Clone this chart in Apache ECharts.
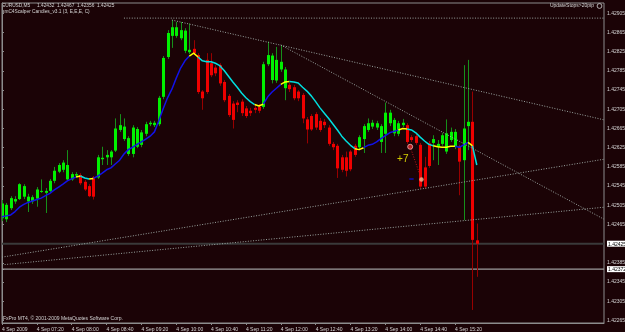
<!DOCTYPE html>
<html><head><meta charset="utf-8">
<script src="https://cdn.jsdelivr.net/npm/echarts@6/dist/echarts.min.js"></script>
<style>html,body{margin:0;padding:0;background:#1b0306;}#c{width:625px;height:332px;}</style>
</head><body><div id="c"></div>
<script>
// ---- data (EURUSD M5, bar 0 = 06:40, one bar per 5 minutes) ----
const openP = [1.42478,1.42476,1.42499,1.42513,1.42518,1.42523,1.42513,1.42513,1.42519,1.42533,
1.42531,1.42535,1.42556,1.42575,1.42579,1.42559,1.42559,1.42567,1.42568,1.42554,
1.42545,1.42563,1.42563,1.42601,1.42605,1.42605,1.42619,1.42662,1.42643,1.42612,
1.42612,1.42627,1.42631,1.42654,1.42674,1.42672,1.42674,1.42731,1.42814,1.42858,
1.42858,1.42853,1.42827,1.42824,1.42831,1.42818,1.42742,1.42808,1.42801,1.42792,
1.42797,1.42762,1.42733,1.42717,1.42719,1.42721,1.42707,1.42702,1.42708,1.42710,
1.42710,1.42799,1.42766,1.42765,1.42788,1.42749,1.42756,1.42751,1.42742,1.42735,
1.42684,1.42691,1.42695,1.42681,1.42679,1.42667,1.42633,1.42629,1.42605,1.42605,
1.42617,1.42629,1.42626,1.42643,1.42662,1.42669,1.42667,1.42637,1.42654,1.42676,
1.42655,1.42654,1.42672,1.42672,1.42647,1.42649,1.42631,1.42584,1.42634,1.42635,
1.42627,1.42633,1.42617,1.42641,1.42627,1.42627,1.42599,1.42670,1.42679,1.42432];
const highP = [1.42516,1.42510,1.42524,1.42524,1.42551,1.42549,1.42529,1.42526,1.42543,1.42559,
1.42541,1.42560,1.42585,1.42593,1.42599,1.42620,1.42574,1.42574,1.42572,1.42558,
1.42549,1.42566,1.42610,1.42627,1.42620,1.42620,1.42686,1.42695,1.42686,1.42649,
1.42672,1.42668,1.42662,1.42679,1.42681,1.42681,1.42733,1.42816,1.42870,1.42891,
1.42887,1.42887,1.42874,1.42884,1.42849,1.42822,1.42745,1.42822,1.42822,1.42797,
1.42801,1.42766,1.42737,1.42722,1.42724,1.42726,1.42712,1.42708,1.42714,1.42716,
1.42804,1.42846,1.42822,1.42835,1.42839,1.42793,1.42760,1.42756,1.42745,1.42739,
1.42689,1.42695,1.42699,1.42687,1.42685,1.42672,1.42637,1.42633,1.42610,1.42617,
1.42620,1.42633,1.42651,1.42674,1.42686,1.42683,1.42681,1.42674,1.42719,1.42704,
1.42687,1.42681,1.42685,1.42676,1.42651,1.42654,1.42635,1.42606,1.42639,1.42651,
1.42641,1.42656,1.42684,1.42667,1.42664,1.42631,1.42797,1.42808,1.42742,1.42467];
const lowP = [1.42472,1.42470,1.42495,1.42508,1.42516,1.42518,1.42491,1.42508,1.42502,1.42531,
1.42489,1.42531,1.42551,1.42572,1.42574,1.42556,1.42556,1.42564,1.42547,1.42535,
1.42522,1.42517,1.42560,1.42589,1.42589,1.42589,1.42616,1.42658,1.42639,1.42608,
1.42605,1.42624,1.42626,1.42649,1.42670,1.42668,1.42670,1.42726,1.42810,1.42833,
1.42854,1.42849,1.42822,1.42820,1.42818,1.42737,1.42704,1.42737,1.42772,1.42774,
1.42754,1.42720,1.42689,1.42665,1.42699,1.42691,1.42687,1.42691,1.42697,1.42697,
1.42706,1.42795,1.42759,1.42760,1.42783,1.42724,1.42741,1.42724,1.42722,1.42676,
1.42634,1.42660,1.42662,1.42658,1.42666,1.42629,1.42620,1.42562,1.42574,1.42565,
1.42576,1.42606,1.42620,1.42614,1.42658,1.42664,1.42662,1.42614,1.42614,1.42670,
1.42649,1.42649,1.42668,1.42633,1.42637,1.42631,1.42539,1.42539,1.42583,1.42599,
1.42589,1.42629,1.42612,1.42637,1.42622,1.42526,1.42474,1.42620,1.42287,1.42356];
const closeP = [1.42509,1.42506,1.42520,1.42518,1.42549,1.42545,1.42523,1.42522,1.42538,1.42535,
1.42535,1.42556,1.42577,1.42589,1.42594,1.42589,1.42570,1.42570,1.42551,1.42538,
1.42524,1.42523,1.42605,1.42604,1.42610,1.42617,1.42665,1.42672,1.42669,1.42645,
1.42667,1.42664,1.42657,1.42674,1.42677,1.42677,1.42729,1.42812,1.42864,1.42876,
1.42876,1.42870,1.42869,1.42829,1.42822,1.42741,1.42728,1.42741,1.42776,1.42780,
1.42759,1.42724,1.42693,1.42683,1.42714,1.42697,1.42691,1.42697,1.42704,1.42702,
1.42799,1.42818,1.42817,1.42808,1.42804,1.42788,1.42747,1.42728,1.42728,1.42686,
1.42663,1.42663,1.42667,1.42662,1.42672,1.42633,1.42626,1.42582,1.42579,1.42577,
1.42580,1.42610,1.42647,1.42670,1.42676,1.42677,1.42676,1.42670,1.42698,1.42698,
1.42683,1.42676,1.42677,1.42637,1.42641,1.42635,1.42544,1.42544,1.42587,1.42643,
1.42633,1.42651,1.42655,1.42658,1.42658,1.42596,1.42665,1.42679,1.42433,1.42425];
const maP = [1.42481,1.42483,1.42485,1.42492,1.42501,1.42507,1.42511,1.42514,1.42517,1.42520,
1.42525,1.42530,1.42537,1.42543,1.42549,1.42556,1.42560,1.42564,1.42566,1.42562,
1.42560,1.42561,1.42566,1.42572,1.42579,1.42583,1.42591,1.42599,1.42612,1.42621,
1.42626,1.42632,1.42637,1.42643,1.42649,1.42658,1.42681,1.42706,1.42729,1.42747,
1.42770,1.42791,1.42806,1.42816,1.42822,1.42814,1.42806,1.42804,1.42804,1.42801,
1.42796,1.42786,1.42774,1.42762,1.42751,1.42739,1.42729,1.42721,1.42715,1.42712,
1.42716,1.42731,1.42741,1.42749,1.42757,1.42762,1.42763,1.42762,1.42760,1.42751,
1.42743,1.42733,1.42721,1.42708,1.42697,1.42686,1.42674,1.42662,1.42649,1.42639,
1.42630,1.42623,1.42621,1.42625,1.42630,1.42632,1.42637,1.42644,1.42650,1.42656,
1.42659,1.42662,1.42665,1.42664,1.42662,1.42656,1.42647,1.42639,1.42632,1.42629,
1.42627,1.42626,1.42626,1.42628,1.42628,1.42626,1.42631,1.42636,1.42629,1.42589];
// MA colour runs: b = rising (blue), c = falling (cyan), y = turning (yellow); counts are segments
const maColorRuns = [['b',17],['y',1],['c',2],['y',1],['b',22],['y',2],['c',13],['y',2],['b',4],['y',2],
['c',15],['y',2],['b',8],['y',2],['c',6],['y',5],['b',3],['y',1],['c',1]];

const timeTickBars = [0,8,16,24,32,40,48,56,64,72,80,88,96,104];
const timeTickLabels = ['4 Sep 2009','4 Sep 07:20','4 Sep 08:00','4 Sep 08:40','4 Sep 09:20','4 Sep 10:00',
'4 Sep 10:40','4 Sep 11:20','4 Sep 12:00','4 Sep 12:40','4 Sep 13:20','4 Sep 14:00','4 Sep 14:40','4 Sep 15:20'];
const priceTickLabels = ['1.42265','1.42305','1.42345','1.42385','1.42425','1.42465','1.42505','1.42545',
'1.42585','1.42625','1.42665','1.42705','1.42745','1.42785','1.42825','1.42865','1.42905'];
const bidLevel = 1.42425;
const stopLevel = 1.42372;

// drawn objects (bar index, price)
const hLineTop = [[28, 1.42895], [138.2, 1.42895]];
const trendA = [[39, 1.42891], [138.2, 1.42683]];
const trendB = [[64, 1.42839], [138.2, 1.42476]];
const trendC = [[0, 1.42397], [138.2, 1.42601]];
const trendD = [[0, 1.42381], [138.2, 1.42501]];
const bidLine = [[0, bidLevel], [138.2, bidLevel]];
const stopLine = [[0, stopLevel], [138.2, stopLevel]];
const orderOpen = [93.7, 1.42627];
const orderClose = [96.3, 1.42559];
const orderPath = [orderOpen, orderClose];
const closeDash = [[93.5, 1.42560], [94.5, 1.42560]];
const profitText = [92, 1.42601];

// ---- chart ----
const X_MAX = 138.2;
const colors = {bodyUp:'#00f000', wickUp:'#16901a', bodyDn:'#f00000', wickDn:'#980000',
  b:'#1212e6', c:'#00dede', y:'#ffff00', dots:'#9aa4a0', axis:'#8c8c8c', text:'#d4d4d4'};
const FONT = 'Liberation Sans';

const candleData = openP.map((o, i) => [i, o, closeP[i], lowP[i], highP[i]]);

function renderCandle(params, api) {
  const i = api.value(0), o = api.value(1), c = api.value(2), l = api.value(3), h = api.value(4);
  const pO = api.coord([i, o]), pC = api.coord([i, c]), pH = api.coord([i, h]), pL = api.coord([i, l]);
  const bull = c >= o;
  const cx = Math.round(pO[0]);
  const top = Math.min(pO[1], pC[1]), bot = Math.max(pO[1], pC[1]);
  return {type:'group', children:[
    {type:'line', shape:{x1:cx + 0.5, y1:pH[1], x2:cx + 0.5, y2:pL[1]},
      style:{stroke: bull ? colors.wickUp : colors.wickDn, lineWidth:1}},
    {type:'rect', shape:{x:cx - 1, y:top, width:3, height:Math.max(1, bot - top)},
      style:{fill: bull ? colors.bodyUp : colors.bodyDn}}
  ]};
}

const series = [{
  type:'custom', renderItem: renderCandle, data: candleData, clip:true, z:2,
  encode:{x:0, y:[1,2,3,4]}, silent:true
}];

let s = 0;
maColorRuns.forEach(([k, n]) => {
  const data = [];
  for (let j = s; j <= s + n; j++) data.push([j, maP[j]]);
  series.push({type:'line', data, showSymbol:false, symbol:'none', z:3, silent:true,
    lineStyle:{color: colors[k], width:1.5}});
  s += n;
});

function dotted(data, color) {
  return {type:'line', data, showSymbol:false, symbol:'none', z:4, silent:true, clip:true,
    lineStyle:{color: color || colors.dots, width:1, type:[1, 1.6]}};
}
[hLineTop, trendA, trendB, trendC, trendD].forEach(d => series.push(dotted(d)));
series.push({type:'line', data: bidLine, showSymbol:false, symbol:'none', z:1, silent:true,
  lineStyle:{color:'#3a3a3a', width:2}});
series.push({type:'line', data: stopLine, showSymbol:false, symbol:'none', z:1, silent:true,
  lineStyle:{color:'#9c9c9c', width:1.2}});
series.push(dotted(orderPath, '#c01818'));
series.push({type:'line', data: closeDash, showSymbol:false, symbol:'none', z:5, silent:true,
  lineStyle:{color:'#1010b0', width:1.5}});
series.push({type:'scatter', data:[orderOpen], symbol:'circle', symbolSize:5, z:6, silent:true,
  itemStyle:{color:'#e02828', borderColor:'#f4b4b4', borderWidth:1}});
series.push({type:'scatter', data:[orderClose], symbol:'circle', symbolSize:4.5, z:6, silent:true,
  itemStyle:{color:'#f2b890'}});
series.push({type:'scatter', data:[profitText], symbolSize:0, z:7, silent:true,
  label:{show:true, position:'inside', formatter:'+7', color:'#ffff00', fontSize:10, fontFamily:FONT}});

const priceTickVals = priceTickLabels.map(parseFloat).concat([stopLevel]);

const option = {
  backgroundColor:'#1b0306',
  animation:false,
  grid:{left:2, top:3, width:602, height:320, show:true, borderColor:colors.axis, borderWidth:1,
    backgroundColor:'transparent', containLabel:false, outerBoundsMode:'none'},
  xAxis:{type:'value', min:0, max:X_MAX,
    axisLine:{show:true, lineStyle:{color:colors.axis}},
    axisTick:{show:true, length:2, customValues: timeTickBars, lineStyle:{color:colors.axis}},
    axisLabel:{show:true, customValues: timeTickBars, align:'left', margin:4, fontSize:5,
      fontFamily:FONT, color:colors.text,
      formatter: v => { const k = timeTickBars.indexOf(Math.round(v)); return k >= 0 ? timeTickLabels[k] : ''; }},
    splitLine:{show:false}},
  yAxis:{type:'value', position:'right', min:1.422598, max:1.429265,
    axisLine:{show:true, lineStyle:{color:colors.axis}},
    axisTick:{show:true, length:2, customValues: priceTickVals, lineStyle:{color:colors.axis}},
    axisLabel:{show:true, customValues: priceTickVals, margin:3, fontSize:5, fontFamily:FONT, color:colors.text,
      formatter: v => {
        const t = v.toFixed(5);
        if (Math.abs(v - bidLevel) < 1e-7 || Math.abs(v - stopLevel) < 1e-7) return '{hl|' + t + '}';
        return t;
      },
      rich:{hl:{backgroundColor:'#ffffff', color:'#000000', fontSize:5, fontFamily:FONT, padding:[1,2,0,1]}}},
    splitLine:{show:false}},
  graphic:[
    {type:'text', x:2, y:6, style:{text:'EURUSD,M5', fill:colors.text, fontSize:4.8, fontFamily:FONT, verticalAlign:'middle'}},
    {type:'text', x:37, y:6, style:{text:'1.42432  1.42467  1.42356  1.42425', fill:colors.text, fontSize:4.8, fontFamily:FONT, verticalAlign:'middle'}},
    {type:'text', x:2, y:12, style:{text:'smC4Scalper Candles_v3.1 (3, E,E,E, C)', fill:colors.text, fontSize:4.8, fontFamily:FONT, verticalAlign:'middle'}},
    {type:'text', x:594, y:6, style:{text:'UpdateStops>20pip', fill:colors.text, fontSize:5, fontFamily:FONT, align:'right', verticalAlign:'middle'}},
    {type:'circle', shape:{cx:599.5, cy:6, r:2.4}, style:{fill:'none', stroke:colors.text, lineWidth:0.8}},
    {type:'text', x:3, y:318.5, style:{text:'FxPro MT4, \u00a9 2001-2009 MetaQuotes Software Corp.', fill:colors.text, fontSize:5, fontFamily:FONT, verticalAlign:'middle'}}
  ],
  series
};
const chart = echarts.init(document.getElementById('c'));
chart.setOption(option);
</script>
</body></html>
